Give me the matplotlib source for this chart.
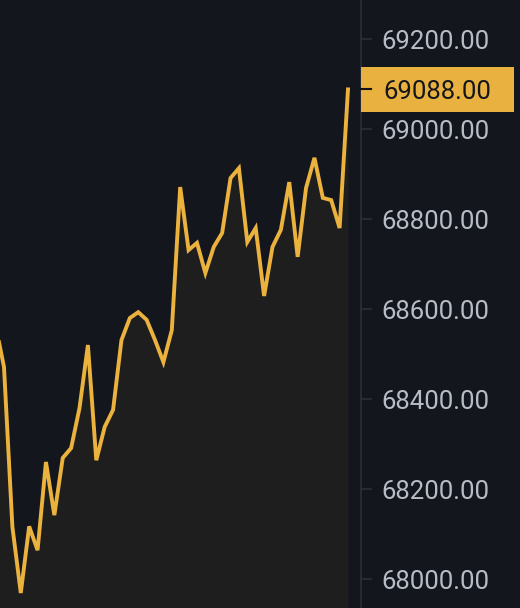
import matplotlib
matplotlib.use("Agg")
import matplotlib.pyplot as plt
from matplotlib.patches import Rectangle
from matplotlib.lines import Line2D
import matplotlib.transforms as mtransforms

prices = [68564, 68471, 68116, 67969, 68117, 68064, 68260, 68142, 68269, 68291,
          68380, 68520, 68264, 68338, 68376, 68531, 68580, 68593, 68576, 68531,
          68482, 68553, 68871, 68731, 68747, 68680, 68738, 68769, 68891, 68913,
          68749, 68780, 68629, 68738, 68776, 68882, 68716, 68869, 68936, 68847,
          68842, 68780, 69088]
steps = list(range(-1, len(prices) - 1))
y_ticks = [68000, 68200, 68400, 68600, 68800, 69000, 69200]
y_tick_labels = ["68000.00", "68200.00", "68400.00", "68600.00", "68800.00", "69000.00", "69200.00"]
last_price = prices[-1]
last_label = "69088.00"

BG = "#13161d"
FILL = "#1f1e1f"
LINE = "#ebb23d"
GRID = "#2b2f37"
TXT = "#b7bdc6"

plt.rcParams['font.family'] = ['Roboto', 'DejaVu Sans']

fig = plt.figure(figsize=(5.2, 6.08), dpi=100, facecolor=BG)
ax = fig.add_axes([0, 0, 361 / 520, 1])
ax.set_facecolor(BG)

ymin, ymax = 67935.6, 69286.7
ax.set_xlim(-0.477, 42.55)
ax.set_ylim(ymin, ymax)

ax.fill_between(steps, prices, ymin - 100, color=FILL, lw=0, zorder=1)
ax.plot(steps, prices, color=LINE, lw=2.8, solid_joinstyle='miter', zorder=3)

for s in ['top', 'left', 'bottom']:
    ax.spines[s].set_visible(False)
ax.spines['right'].set_color(GRID)
ax.spines['right'].set_linewidth(1.2)
ax.set_xticks([])
ax.yaxis.tick_right()
ax.set_yticks(y_ticks)
ax.set_yticklabels(y_tick_labels)
ax.tick_params(axis='y', colors=GRID, length=8, width=1.2, pad=7,
               labelsize=18.5, labelcolor=TXT)

# current price label box
trans = mtransforms.blended_transform_factory(fig.transFigure, ax.transData)
h = (ymax - ymin) * 45 / 608
rect = Rectangle((361 / 520, last_price - h / 2), (514 - 361) / 520, h,
                 transform=trans, facecolor="#e9b13f", edgecolor='none',
                 clip_on=False, zorder=5)
fig.add_artist(rect)
fig.add_artist(Line2D([361 / 520, 371 / 520], [last_price, last_price], transform=trans,
                      color="#111318", lw=1.5, zorder=6))
fig.text(383 / 520, last_price, last_label, transform=trans, va='center_baseline', ha='left',
         fontsize=18.5, color="#14161b", zorder=7)

fig.savefig("out.png", dpi=100, facecolor=BG)
